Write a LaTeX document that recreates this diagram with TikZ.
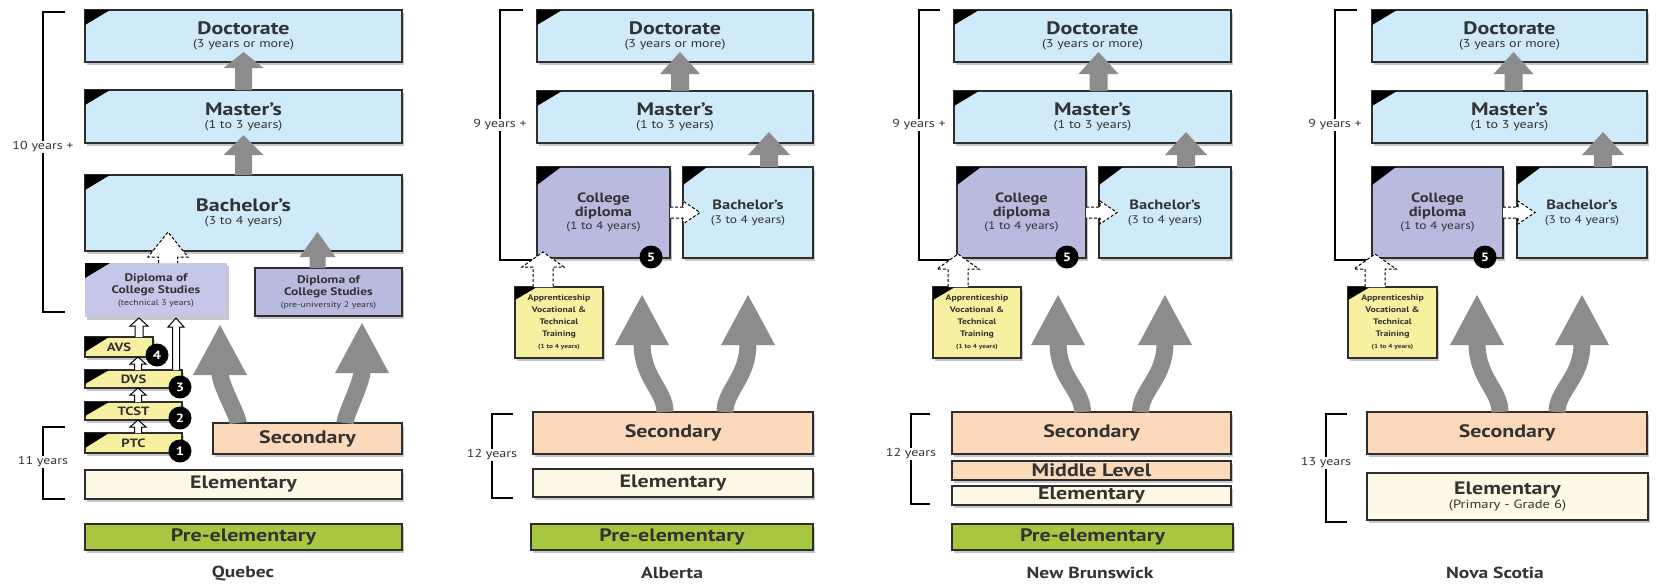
\documentclass[tikz,border=0pt]{standalone}
\usepackage{fontspec}
\setmainfont{PT Sans}[FakeStretch=1.22]
\usetikzlibrary{calc,shadows}
\definecolor{bluebox}{HTML}{CFEAF8}
\definecolor{lavbox}{HTML}{B8BADF}
\definecolor{lavlight}{HTML}{C4C7E8}
\definecolor{yelbox}{HTML}{F6F0A0}
\definecolor{peachbox}{HTML}{FCD9BB}
\definecolor{creambox}{HTML}{FDF9E6}
\definecolor{greenbox}{HTML}{A6C73F}
\definecolor{boxline}{HTML}{2E2E2E}
\definecolor{txt}{HTML}{333333}
\definecolor{arrowgray}{HTML}{8C8C8C}
\newcommand\ttl{\fontsize{18}{19}\selectfont\bfseries}
\newcommand\sbt{\fontsize{11.5}{12}\selectfont\mdseries}
\newcommand\midt{\fontsize{13.5}{13.5}\selectfont\bfseries}
\newcommand\msb{\fontsize{11}{12}\selectfont\mdseries}
\newcommand\lvl{\fontsize{18}{19}\selectfont\bfseries}
\newcommand\yrs{\fontsize{11.5}{12}\selectfont}
\newcommand\prov{\fontsize{16}{17}\selectfont\bfseries}
\newcommand\dcs{\fontsize{11}{12}\selectfont\bfseries}
\newcommand\dcsb{\fontsize{8}{9}\selectfont\mdseries}
\newcommand\appt{\fontsize{8}{11}\selectfont\bfseries}
\newcommand\appb{\fontsize{6}{9}\selectfont\bfseries}
% box: style, name, (x,y), w, h, text
\newcommand\bx[6]{\node[box,#1,minimum width=#4pt,minimum height=#5pt] (#2) at #3 {#6};}
% corner triangle
\newcommand\crn[3]{\fill[black] (#1.north west) -- ++(#2,0) -- ++(-#2,#3) -- cycle;}
% vertical arrow: style, base, tip, shaft half, head half, head length
\newcommand\varrow[6]{\path[#1] let \p1=#2, \p2=#3 in
 (\x2-#4,\y1) -- (\x2-#4,\y2-#6) -- (\x2-#5,\y2-#6) -- (\x2,\y2) -- (\x2+#5,\y2-#6) -- (\x2+#4,\y2-#6) -- (\x2+#4,\y1);}
% horizontal arrow: style, base, tip, shaft half, head half, head length
\newcommand\harrow[6]{\path[#1] let \p1=#2, \p2=#3 in
 (\x1,\y2+#4) -- (\x2-#6,\y2+#4) -- (\x2-#6,\y2+#5) -- (\x2,\y2) -- (\x2-#6,\y2-#5) -- (\x2-#6,\y2-#4) -- (\x1,\y2-#4);}
% big curved gray arrow: start, tip, start-control, end-control
\newcommand\bigarr[4]{%
 \draw[bigshaft] #1 .. controls +(0,-#3) and +(0,#4) .. ($#2+(0,48)$);
 \fill[arrowgray] let \p1=#2 in (\x1,\y1) -- (\x1-27pt,\y1-50pt) -- (\x1+27pt,\y1-50pt) -- cycle;}
\newcommand\apptext{\appt Apprenticeship\\\appt Vocational \&\\\appt Technical\\\appt Training\\\appb (1 to 4 years)}
\newcommand\coltext{\midt College\\\midt diploma\\[1pt]\msb (1 to 4 years)}
\tikzset{
 box/.style={draw=boxline, line width=1.3pt, inner sep=0pt, outer sep=0pt, anchor=north west,
   align=center, text=txt,
   drop shadow={shadow xshift=2pt, shadow yshift=-3pt, opacity=0.22, fill=black}},
 blue/.style={fill=bluebox},
 lav/.style={fill=lavbox},
 lavl/.style={fill=lavlight, draw=none},
 yel/.style={fill=yelbox},
 peach/.style={fill=peachbox},
 cream/.style={fill=creambox},
 green/.style={fill=greenbox},
 numc/.style={circle, fill=black, text=white, inner sep=0pt, minimum size=23pt,
   font=\fontsize{12}{12}\selectfont\bfseries},
 garrow/.style={fill=arrowgray},
 warrow/.style={fill=white, draw=black, line width=1pt, line join=miter},
 darrow/.style={fill=white, draw=black, line width=1pt, dash pattern=on 3pt off 2pt},
 bigshaft/.style={draw=arrowgray, line width=17pt},
 brk/.style={draw=black, line width=1.2pt},
 brklab/.style={fill=white, inner sep=1pt, text=txt, font=\yrs},
 provlab/.style={text=txt, font=\prov},
}
\begin{document}
\begin{tikzpicture}[x=1pt,y=-1pt]
\useasboundingbox[fill=white] (0,0) rectangle (1656,584);

% ================= brackets =================
\draw[brk] (65,12) -- (43,12) -- (43,312) -- (65,312);
\node[brklab] (q-l10) at (43,147) {10 years +};
\draw[brk] (65,427) -- (43,427) -- (43,499) -- (65,499);
\node[brklab] (q-l11) at (43,462) {11 years};

\draw[brk] (523,10) -- (500,10) -- (500,260) -- (537,260);
\node[brklab] (a-l9) at (500,125) {9 years +};
\draw[brk] (513,414) -- (492,414) -- (492,498) -- (513,498);
\node[brklab] (a-l12) at (492,455) {12 years};

\draw[brk] (940,10) -- (919,10) -- (919,260) -- (957,260);
\node[brklab] (n-l9) at (919,125) {9 years +};
\draw[brk] (930,414) -- (911,414) -- (911,504) -- (930,504);
\node[brklab] (n-l12) at (911,454) {12 years};

\draw[brk] (1357,10) -- (1335,10) -- (1335,260) -- (1372,260);
\node[brklab] (s-l9) at (1335,125) {9 years +};
\draw[brk] (1347,414) -- (1326,414) -- (1326,522) -- (1347,522);
\node[brklab] (s-l13) at (1326,463) {13 years};

% ================= Quebec =================
\bx{blue}{q-doc}{(85,10)}{317}{52}{\ttl Doctorate\\[1pt]\sbt (3 years or more)}
\bx{blue}{q-mas}{(85,90)}{317}{53}{\ttl Master’s\\[1pt]\sbt (1 to 3 years)}
\bx{blue}{q-bac}{(85,175)}{317}{76}{\ttl Bachelor’s\\[1pt]\sbt (3 to 4 years)}
\bx{lavl}{q-dct}{(85,263)}{142}{54}{\dcs Diploma of\\\dcs College Studies\\\dcsb (technical 3 years)}
\bx{lav}{q-dcp}{(255,268)}{147}{48}{\dcs Diploma of\\\dcs College Studies\\\dcsb (pre-university 2 years)}
\bx{yel}{q-avs}{(85,337)}{68}{20}{\fontsize{12}{12}\selectfont\bfseries AVS}
\bx{yel}{q-dvs}{(85,370)}{97}{18}{\fontsize{12}{12}\selectfont\bfseries DVS}
\bx{yel}{q-tcst}{(85,402)}{97}{18}{\fontsize{12}{12}\selectfont\bfseries TCST}
\bx{yel}{q-ptc}{(85,433)}{97}{20}{\fontsize{12}{12}\selectfont\bfseries PTC}
\bx{peach}{q-sec}{(213,423)}{189}{31}{\lvl Secondary}
\bx{cream}{q-ele}{(85,470)}{317}{29}{\lvl Elementary}
\bx{green}{q-pre}{(85,524)}{317}{26}{\lvl Pre-elementary}
\crn{q-doc}{25}{15}\crn{q-mas}{25}{15}\crn{q-bac}{25}{15}\crn{q-dct}{25}{15}
\crn{q-avs}{24}{15}\crn{q-dvs}{24}{14}\crn{q-tcst}{24}{14}\crn{q-ptc}{24}{15}
\node[provlab] (q-name) at (243,573) {Quebec};

% arrows Quebec
\varrow{garrow}{(q-mas.north)}{($(q-doc.south)+(0,-10)$)}{8.5pt}{20pt}{16pt}
\varrow{garrow}{(q-bac.north)}{($(q-mas.south)+(0,-8)$)}{8.5pt}{20pt}{20pt}
\varrow{garrow}{(q-dcp.north)}{($(q-dcp.north)+(-11,-36)$)}{8pt}{18pt}{25pt}
\varrow{darrow}{(q-dct.north)}{($(q-dct.north west)+(83,-31)$)}{9.5pt}{20pt}{25pt}
\varrow{warrow}{(q-avs.north)}{($(q-dct.south west)+(54,1)$)}{4pt}{9pt}{8pt}
\varrow{warrow}{(q-dvs.north)}{($(q-dct.south west)+(91,1)$)}{3.5pt}{8pt}{9pt}
\varrow{warrow}{(q-dvs.north)}{($(q-avs.south west)+(53,0)$)}{3.5pt}{8pt}{7pt}
\varrow{warrow}{(q-tcst.north)}{($(q-dvs.south west)+(53,0)$)}{3.5pt}{8pt}{7pt}
\varrow{warrow}{(q-ptc.north)}{($(q-tcst.south west)+(53,0)$)}{3.5pt}{8pt}{7pt}
\coordinate (q-t1) at (220,325);
\coordinate (q-t2) at (362,323);
\bigarr{($(q-sec.north west)+(25,0)$)}{(q-t1)}{8}{12}
\bigarr{($(q-sec.north west)+(132,0)$)}{(q-t2)}{8}{12}
\node[numc] (q-c1) at ($(q-ptc.south east)+(-2,-2)$) {1};
\node[numc] (q-c2) at ($(q-tcst.south east)+(-2,-2)$) {2};
\node[numc] (q-c3) at ($(q-dvs.south east)+(-2,-1)$) {3};
\node[numc] (q-c4) at ($(q-avs.south east)+(4,-2)$) {4};

% ================= Alberta =================
\bx{blue}{a-doc}{(537,10)}{276}{52}{\ttl Doctorate\\[1pt]\sbt (3 years or more)}
\bx{blue}{a-mas}{(537,91)}{276}{52}{\ttl Master’s\\[1pt]\sbt (1 to 3 years)}
\bx{lav}{a-col}{(537,167)}{133}{91}{\coltext}
\bx{blue}{a-bac}{(683,167)}{130}{91}{\midt Bachelor’s\\[2pt]\msb (3 to 4 years)}
\bx{yel}{a-app}{(515,287)}{88}{71}{\apptext}
\bx{peach}{a-sec}{(533,412)}{280}{42}{\lvl Secondary}
\bx{cream}{a-ele}{(533,469)}{280}{28}{\lvl Elementary}
\bx{green}{a-pre}{(531,524)}{282}{26}{\lvl Pre-elementary}
\crn{a-doc}{25}{15}\crn{a-mas}{25}{15}\crn{a-col}{24}{18}\crn{a-bac}{24}{18}\crn{a-app}{22}{13}
\node[provlab] (a-name) at (672,573) {Alberta};
\varrow{garrow}{(a-mas.north)}{($(a-doc.south)+(5,-10)$)}{9pt}{20pt}{22pt}
\varrow{garrow}{(a-bac.north)}{($(a-bac.north)+(21,-35)$)}{9pt}{21pt}{23pt}
\harrow{darrow}{(a-col.east)}{($(a-bac.west)+(17,0)$)}{5.5pt}{11.5pt}{17pt}
\varrow{darrow}{(a-app.north)}{($(a-col.south west)+(6,-6)$)}{10pt}{21pt}{15pt}
\coordinate (a-t1) at (642,295);
\coordinate (a-t2) at (748,295);
\bigarr{($(a-sec.north)+(-8,0)$)}{(a-t1)}{22}{35}
\bigarr{($(a-sec.north)+(52,0)$)}{(a-t2)}{22}{35}
\node[numc] (a-c5) at ($(a-col.south east)+(-19,-1)$) {5};

% ================= New Brunswick =================
\bx{blue}{n-doc}{(954,10)}{277}{52}{\ttl Doctorate\\[1pt]\sbt (3 years or more)}
\bx{blue}{n-mas}{(954,91)}{277}{52}{\ttl Master’s\\[1pt]\sbt (1 to 3 years)}
\bx{lav}{n-col}{(957,167)}{129}{91}{\coltext}
\bx{blue}{n-bac}{(1099,167)}{132}{91}{\midt Bachelor’s\\[2pt]\msb (3 to 4 years)}
\bx{yel}{n-app}{(933,287)}{88}{71}{\apptext}
\bx{peach}{n-sec}{(952,412)}{279}{42}{\lvl Secondary}
\bx{peach}{n-mid}{(952,461)}{279}{19}{\lvl Middle Level}
\bx{cream}{n-ele}{(952,486)}{279}{19}{\lvl Elementary}
\bx{green}{n-pre}{(952,524)}{281}{26}{\lvl Pre-elementary}
\crn{n-doc}{25}{15}\crn{n-mas}{25}{15}\crn{n-col}{24}{18}\crn{n-bac}{24}{18}\crn{n-app}{22}{13}
\node[provlab] (n-name) at (1090,573) {New Brunswick};
\varrow{garrow}{(n-mas.north)}{($(n-doc.south)+(6,-10)$)}{9pt}{20pt}{22pt}
\varrow{garrow}{(n-bac.north)}{($(n-bac.north)+(21,-35)$)}{9pt}{21pt}{23pt}
\harrow{darrow}{(n-col.east)}{($(n-bac.west)+(18,0)$)}{5.5pt}{11.5pt}{17pt}
\varrow{darrow}{(n-app.north)}{($(n-col.south west)+(1,-4)$)}{10pt}{21pt}{15pt}
\coordinate (n-t1) at (1058,295);
\coordinate (n-t2) at (1165,295);
\bigarr{($(n-sec.north)+(-9,0)$)}{(n-t1)}{22}{35}
\bigarr{($(n-sec.north)+(49,0)$)}{(n-t2)}{22}{35}
\node[numc] (n-c5) at ($(n-col.south east)+(-19,-1)$) {5};

% ================= Nova Scotia =================
\bx{blue}{s-doc}{(1372,10)}{275}{52}{\ttl Doctorate\\[1pt]\sbt (3 years or more)}
\bx{blue}{s-mas}{(1372,91)}{275}{52}{\ttl Master’s\\[1pt]\sbt (1 to 3 years)}
\bx{lav}{s-col}{(1372,167)}{131}{91}{\coltext}
\bx{blue}{s-bac}{(1517,167)}{130}{91}{\midt Bachelor’s\\[2pt]\msb (3 to 4 years)}
\bx{yel}{s-app}{(1348,287)}{89}{71}{\apptext}
\bx{peach}{s-sec}{(1367,412)}{280}{42}{\lvl Secondary}
\bx{cream}{s-ele}{(1367,473)}{281}{47}{\lvl Elementary\\\fontsize{12}{13}\selectfont\mdseries (Primary - Grade 6)}
\crn{s-doc}{25}{15}\crn{s-mas}{25}{15}\crn{s-col}{24}{18}\crn{s-bac}{24}{18}\crn{s-app}{22}{13}
\node[provlab] (s-name) at (1495,573) {Nova Scotia};
\varrow{garrow}{(s-mas.north)}{($(s-doc.south)+(4,-10)$)}{9pt}{20pt}{22pt}
\varrow{garrow}{(s-bac.north)}{($(s-bac.north)+(21,-35)$)}{9pt}{21pt}{23pt}
\harrow{darrow}{(s-col.east)}{($(s-bac.west)+(18,0)$)}{5.5pt}{11.5pt}{17pt}
\varrow{darrow}{(s-app.north)}{($(s-col.south west)+(3,-4)$)}{10pt}{21pt}{15pt}
\coordinate (s-t1) at (1477,295);
\coordinate (s-t2) at (1582,295);
\bigarr{($(s-sec.north)+(-7,0)$)}{(s-t1)}{22}{35}
\bigarr{($(s-sec.north)+(50,0)$)}{(s-t2)}{22}{35}
\node[numc] (s-c5) at ($(s-col.south east)+(-18,-1)$) {5};
\end{tikzpicture}
\end{document}
